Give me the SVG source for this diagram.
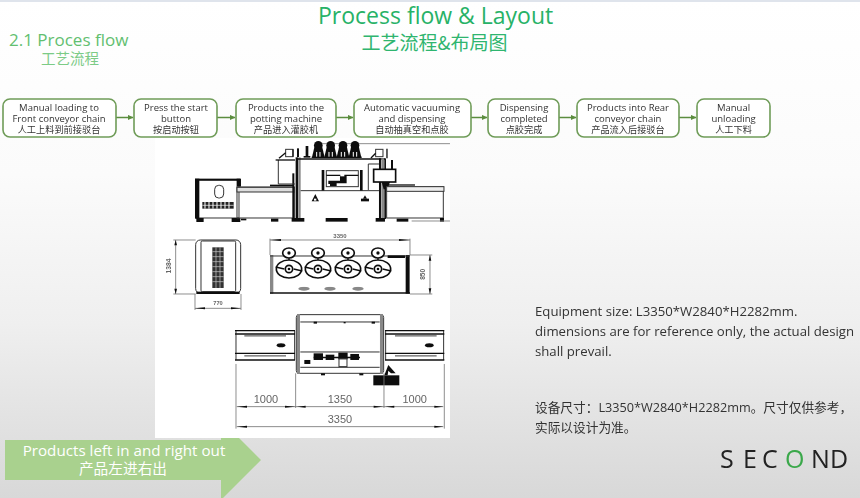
<svg xmlns="http://www.w3.org/2000/svg" width="860" height="498" viewBox="0 0 860 498">
<style>
.cn{font-family:"Noto Sans CJK SC","Noto Sans",sans-serif}
.la{font-family:"Open Sans","Noto Sans CJK SC",sans-serif}
.bx{fill:#fff;stroke:#6f9c58;stroke-width:1.6}
.bt{font-family:"Open Sans","Noto Sans CJK SC",sans-serif;font-size:9.5px;fill:#333;text-anchor:middle}
.bc{font-family:"Noto Sans CJK SC",sans-serif;font-size:9.2px;fill:#333;text-anchor:middle}
.cl{stroke:#5b8d3e;stroke-width:1.5;fill:none;marker-end:url(#ah)}
.d{fill:none;stroke:#333;stroke-width:3}
.t{fill:none;stroke:#111;stroke-width:4}
.k{fill:#111;stroke:none}
.g{fill:#888;stroke:none}
.dm{fill:none;stroke:#777;stroke-width:2.5}
.dt{font-family:"Liberation Sans",sans-serif;fill:#666;text-anchor:middle}
.no{font-family:"Open Sans","Noto Sans CJK SC",sans-serif;font-size:13.2px;fill:#333}
.nc{font-family:"Open Sans","Noto Sans CJK SC",sans-serif;font-size:12.7px;fill:#333}
</style>
<defs>
<linearGradient id="bg" x1="0" y1="0" x2="0" y2="1"><stop offset="0" stop-color="#fff"/><stop offset=".35" stop-color="#fbfbfb"/><stop offset=".65" stop-color="#efefef"/><stop offset="1" stop-color="#d8d8d8"/></linearGradient>
<marker id="ah" markerWidth="6" markerHeight="6" refX="5" refY="3" orient="auto" markerUnits="userSpaceOnUse"><path d="M0,0.4L5.500,3L0,5.600z" fill="#5b8d3e"/></marker>
<filter id="soft" x="-2%" y="-2%" width="104%" height="104%"><feGaussianBlur stdDeviation="2"/></filter>
<g id="hex"><ellipse fill="#fff" stroke="#111" stroke-width="5" rx="38" ry="27"/><circle fill="#fff" stroke="#111" stroke-width="5" r="11"/><circle class="k" r="4"/><path class="t" d="M-40,-6L-14,0M14,0L40,6"/></g>
<g id="knob"><ellipse fill="#fff" stroke="#111" stroke-width="5" rx="19" ry="15"/><circle class="k" r="5"/><path class="t" d="M0,15V26" stroke-width="8"/></g>
<g id="head"><circle class="k" cx="0" cy="-12" r="13"/><path class="k" d="M-11,-10L-19,24H19L11,-10Z"/><path d="M-5,8V24M5,8V24" stroke="#fff" stroke-width="3"/></g>
</defs>
<rect id="background" width="860" height="498" fill="url(#bg)"/>
<rect x="0" y="0" width="860" height="2" fill="#dfe4ec"/>

<g id="title">
<text class="la" x="318" y="24" font-size="23" fill="#27b267">Process flow &amp; Layout</text>
<text class="cn" x="434.500" y="50" font-size="19" fill="#2fb56f" text-anchor="middle">工艺流程&amp;布局图</text>
</g>
<g id="subtitle">
<text class="la" x="9" y="46" font-size="17" fill="#62bf70">2.1 Proces flow</text>
<text class="cn" x="70" y="64" font-size="14.500" fill="#7ccb86" text-anchor="middle">工艺流程</text>
</g>

<g id="banner">
<polygon points="5,440 221,440 221,420 261,460 221,500 221,480 5,480" fill="#a9d18e"/>
<text class="la" x="124" y="456" font-size="15.200" fill="#fff" text-anchor="middle">Products left in and right out</text>
<text class="cn" x="123" y="474" font-size="14.700" fill="#fff" text-anchor="middle">产品左进右出</text>
</g>

<g id="layout-drawing">
<rect x="155" y="138" width="295" height="300" fill="#fff"/>
<g transform="translate(155,140) scale(0.3333)" filter="url(#soft)">
<!-- side view -->
<rect class="d" x="124" y="120" width="128" height="114"/>
<rect class="k" x="120" y="116" width="13" height="120"/>
<rect class="k" x="120" y="116" width="135" height="6"/>
<rect class="k" x="245" y="116" width="13" height="24"/>
<rect class="d" x="179" y="136" width="27" height="38" rx="12"/>
<rect x="142" y="186" width="94" height="20" fill="#222"/>
<path d="M150,186V206M162,186V206M174,186V206M186,186V206M198,186V206M210,186V206M222,186V206" stroke="#fff" stroke-width="3"/>
<path d="M142,196H236" stroke="#fff" stroke-width="2"/>
<rect class="k" x="124" y="234" width="22" height="12"/><rect class="k" x="230" y="234" width="26" height="12"/>
<rect class="d" x="246" y="141" width="172" height="93"/>
<rect x="246" y="142" width="172" height="14" fill="#ddd" stroke="#333" stroke-width="3"/>
<rect class="k" x="412" y="100" width="6" height="136"/>
<path class="d" d="M370,60V132H420"/><path class="t" d="M362,60H420"/><rect class="k" x="345" y="134" width="72" height="5"/>
<rect class="k" x="422" y="52" width="8" height="186"/>
<rect class="g" x="431" y="52" width="6" height="186"/>
<path class="t" d="M425,57H690"/>
<path class="d" d="M437,152H672"/>
<rect class="k" x="500" y="90" width="8" height="62"/><rect class="k" x="615" y="90" width="8" height="62"/>
<rect class="d" x="514" y="92" width="96" height="48"/>
<path class="t" d="M514,106H610"/>
<path class="k" d="M520,122H555V108H575V130H545V138H525V132H520Z"/>
<rect fill="#fff" x="556" y="95" width="12" height="14"/>
<path class="k" d="M470,184L481,162L492,184Z"/><rect fill="#fff" x="477" y="176" width="7" height="6"/>
<rect class="k" x="618" y="176" width="24" height="8"/><path class="k" d="M624,176L630,166L636,176Z"/>
<rect class="k" x="672" y="55" width="6" height="182"/><rect class="g" x="679" y="55" width="8" height="182"/><rect class="k" x="688" y="55" width="5" height="182"/>
<path class="d" d="M640,72H672M640,72V150"/>
<rect fill="#fff" stroke="#111" stroke-width="5" x="656" y="88" width="66" height="38"/>
<path class="k" d="M680,126H705L698,148H686Z"/>
<rect class="d" x="695" y="141" width="170" height="93"/>
<rect x="695" y="140" width="172" height="14" fill="#eee" stroke="#333" stroke-width="3"/>
<path class="t" d="M700,135H780"/>
<rect class="k" x="410" y="234" width="38" height="11"/><rect class="k" x="512" y="234" width="66" height="11"/><rect class="k" x="662" y="234" width="28" height="11"/>
<rect class="k" x="348" y="236" width="22" height="9"/><rect class="k" x="725" y="236" width="35" height="9"/><rect class="k" x="855" y="234" width="12" height="11"/><rect class="k" x="258" y="236" width="16" height="5"/>
<path class="dm" d="M770,243H885M500,11H885"/>
<!-- top items -->
<rect class="d" x="392" y="28" width="22" height="22"/><path class="t" d="M372,55L392,38M414,28V50"/><rect class="k" x="426" y="25" width="6" height="26"/>
<rect class="k" x="452" y="18" width="8" height="32"/><rect class="k" x="446" y="48" width="20" height="5"/>
<use href="#head" x="490" y="28"/><use href="#head" x="527" y="28"/><use href="#head" x="564" y="28"/><use href="#head" x="600" y="28"/>
<rect class="k" x="470" y="50" width="150" height="4"/>
<rect class="d" x="662" y="28" width="22" height="22"/><path class="t" d="M648,54L662,40M696,26V55"/><path class="k" d="M708,60H714V88H708Z"/>

<!-- end view -->
<rect class="d" x="122" y="300" width="135" height="160" rx="14"/>
<rect class="d" x="138" y="303" width="104" height="152" rx="4"/>
<rect x="172" y="322" width="34" height="122" fill="#333"/>
<path d="M172,335H206M172,350H206M172,365H206M172,380H206M172,395H206M172,410H206M172,425H206M183,322V444M195,322V444" stroke="#ccc" stroke-width="2"/>
<path class="dm" d="M62,300V462M55,300H122M55,462H122M120,462V510M258,462V510M120,505H258"/>
<path class="k" d="M62,300L58,316H66ZM62,462L58,446H66ZM120,505L150,502V508ZM258,505L228,502V508Z"/>
<rect class="k" x="124" y="455" width="130" height="7"/>
<text class="dt" x="189" y="496" font-size="17" font-weight="bold">770</text>
<text class="dt" x="0" y="0" font-size="20" font-weight="bold" transform="translate(48,378) rotate(-90)">1384</text>

<!-- middle view -->
<path class="dm" d="M345,296V345M765,296V345M345,300H765M765,345H832M765,462H832M825,345V462"/>
<path class="k" d="M345,300L378,297V303ZM765,300L732,297V303ZM825,345L821,362H829ZM825,462L821,445H829Z"/>
<text class="dt" x="555" y="294" font-size="18" font-weight="bold">3350</text>
<text class="dt" x="0" y="0" font-size="20" font-weight="bold" transform="translate(809,403) rotate(-90)">850</text>
<rect class="g" x="345" y="345" width="10" height="116"/><rect class="k" x="752" y="345" width="12" height="116"/>
<path class="d" d="M345,348H765"/><path class="t" d="M345,459H765"/>
<rect class="k" x="698" y="346" width="52" height="8"/>
<use href="#knob" x="402" y="339"/><use href="#knob" x="489" y="339"/><use href="#knob" x="579" y="339"/><use href="#knob" x="669" y="339"/>
<use href="#hex" x="402" y="387"/><use href="#hex" x="489" y="387"/><use href="#hex" x="579" y="387"/><use href="#hex" x="669" y="387"/>
<ellipse class="g" cx="447" cy="446" rx="17" ry="6" stroke="#111" stroke-width="3"/><ellipse class="g" cx="525" cy="446" rx="17" ry="6" stroke="#111" stroke-width="3"/><ellipse class="g" cx="609" cy="446" rx="17" ry="6" stroke="#111" stroke-width="3"/>

<!-- bottom plan view -->
<rect class="d" x="424" y="524" width="262" height="176" rx="8"/>
<rect class="g" x="426" y="522" width="9" height="180"/><rect class="g" x="675" y="522" width="9" height="180"/>
<path class="d" d="M436,546H674M436,636H674M436,682H674"/>
<rect class="k" x="476" y="545" width="10" height="6"/><rect class="k" x="650" y="545" width="10" height="6"/><rect class="k" x="566" y="546" width="6" height="4"/>
<path class="k" d="M476,650H615V655H476Z"/>
<rect class="k" x="476" y="640" width="28" height="20"/><rect class="k" x="512" y="644" width="26" height="16"/><rect class="k" x="550" y="638" width="28" height="20"/><rect class="k" x="586" y="642" width="26" height="18"/>
<rect class="d" x="552" y="656" width="24" height="24"/>
<rect class="k" x="448" y="660" width="18" height="12"/>
<rect class="k" x="498" y="700" width="12" height="6"/><rect class="k" x="613" y="700" width="12" height="6"/>
<path class="d" d="M243,572V660M419,572V660"/>
<path class="t" d="M240,572H420M240,582H420M240,640H420M240,660H420"/>
<rect class="g" x="268" y="585" width="125" height="5"/><rect class="g" x="268" y="645" width="125" height="5"/>
<ellipse class="k" cx="378" cy="616" rx="13" ry="6"/>
<path class="d" d="M692,572V660M866,572V660"/>
<path class="t" d="M690,572H868M690,582H868M690,640H868M690,660H868"/>
<rect class="g" x="720" y="585" width="125" height="5"/><rect class="g" x="720" y="645" width="125" height="5"/>
<ellipse class="k" cx="823" cy="616" rx="13" ry="6"/>
<rect class="k" x="655" y="706" width="78" height="30"/>
<path class="k" d="M688,706L700,675L722,700L708,700L700,692L698,706Z"/>
<path class="dm" d="M243,672V866M422,700V804M687,700V804M868,672V866M245,800H865M245,860H865"/>
<path class="k" d="M246,800L276,797V803ZM420,800L390,797V803ZM426,800L452,797V803ZM684,800L656,797V803ZM691,800L718,797V803ZM865,800L838,797V803ZM246,860L276,857V863ZM865,860L838,857V863Z"/>
<text class="dt" x="333" y="788" font-size="33">1000</text>
<text class="dt" x="555" y="788" font-size="33">1350</text>
<text class="dt" x="779" y="788" font-size="33">1000</text>
<text class="dt" x="555" y="850" font-size="33">3350</text>
</g>
</g>

<g id="connectors">
<path class="cl" d="M116,117.500H133"/>
<path class="cl" d="M217,117.500H235"/>
<path class="cl" d="M336,117.500H353"/>
<path class="cl" d="M471,117.500H487"/>
<path class="cl" d="M559,117.500H576"/>
<path class="cl" d="M679,117.500H696"/>
</g>

<g id="n1"><rect class="bx" x="3" y="99" width="113" height="38" rx="7"/><text class="bt" x="59" y="110.500">Manual loading to</text><text class="bt" x="59" y="121.500">Front conveyor chain</text><text class="bc" x="59" y="133">人工上料到前接驳台</text></g>
<g id="n2"><rect class="bx" x="134" y="99" width="83" height="38" rx="7"/><text class="bt" x="176" y="110.500">Press the start</text><text class="bt" x="176" y="121.500">button</text><text class="bc" x="176" y="133">按启动按钮</text></g>
<g id="n3"><rect class="bx" x="236" y="99" width="100" height="38" rx="7"/><text class="bt" x="286" y="110.500">Products into the</text><text class="bt" x="286" y="121.500">potting machine</text><text class="bc" x="286" y="133">产品进入灌胶机</text></g>
<g id="n4"><rect class="bx" x="354" y="99" width="117" height="38" rx="7"/><text class="bt" x="412" y="110.500">Automatic vacuuming</text><text class="bt" x="412" y="121.500">and dispensing</text><text class="bc" x="412" y="133">自动抽真空和点胶</text></g>
<g id="n5"><rect class="bx" x="488" y="99" width="71" height="38" rx="7"/><text class="bt" x="524" y="110.500">Dispensing</text><text class="bt" x="524" y="121.500">completed</text><text class="bc" x="524" y="133">点胶完成</text></g>
<g id="n6"><rect class="bx" x="577" y="99" width="102" height="38" rx="7"/><text class="bt" x="628" y="110.500">Products into Rear</text><text class="bt" x="628" y="121.500">conveyor chain</text><text class="bc" x="628" y="133">产品流入后接驳台</text></g>
<g id="n7"><rect class="bx" x="697" y="99" width="73" height="38" rx="7"/><text class="bt" x="733.500" y="110.500">Manual</text><text class="bt" x="733.500" y="121.500">unloading</text><text class="bc" x="733.500" y="133">人工下料</text></g>

<g id="notes">
<text class="no" x="535" y="316">Equipment size: L3350*W2840*H2282mm.</text>
<text class="no" x="535" y="336">dimensions are for reference only, the actual design</text>
<text class="no" x="535" y="356">shall prevail.</text>
<text class="nc" x="535" y="412">设备尺寸：L3350*W2840*H2282mm。尺寸仅供参考，</text>
<text class="nc" x="535" y="432">实际以设计为准。</text>
</g>

<g id="logo">
<text font-family="'Open Sans',sans-serif" font-size="25" fill="#222" y="468" x="720 743 762 785 811 830">SEC<tspan fill="#3aa84a">O</tspan>ND</text>
</g>
</svg>
